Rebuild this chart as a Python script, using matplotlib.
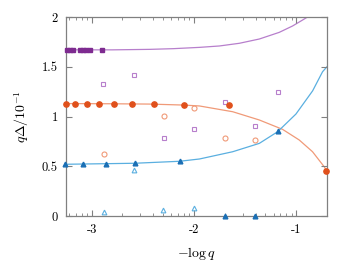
import numpy as np
import matplotlib
matplotlib.use('Agg')
import matplotlib.pyplot as plt
from matplotlib.ticker import FixedLocator

plt.rcParams['font.family'] = ['cmr10', 'DejaVu Serif']
plt.rcParams['mathtext.fontset'] = 'cm'
plt.rcParams['axes.unicode_minus'] = False
plt.rcParams['axes.formatter.use_mathtext'] = True

# filled markers
sq_x = [-3.24, -3.21, -3.18, -3.11, -3.08, -3.05, -3.02, -2.90]
sq_y = [1.67, 1.67, 1.67, 1.67, 1.67, 1.67, 1.67, 1.67]
ci_x = [-3.254, -3.159, -3.049, -2.925, -2.782, -2.61, -2.388, -2.10, -1.657, -0.707]
ci_y = [1.126, 1.126, 1.126, 1.126, 1.126, 1.126, 1.126, 1.12, 1.113, 0.45]
tr_x = [-3.257, -3.085, -2.863, -2.574, -2.135, -1.693, -1.40, -1.182]
tr_y = [0.523, 0.523, 0.523, 0.53, 0.55, 0.0, 0.0, 0.854]

# open markers
osq_x = [-2.886, -2.584, -2.295, -2.002, -1.693, -1.40, -1.182]
osq_y = [1.323, 1.42, 0.787, 0.871, 1.146, 0.908, 1.246]
oci_x = [-2.883, -2.295, -1.998, -1.693, -1.40]
oci_y = [0.62, 1.005, 1.082, 0.78, 0.764]
otr_x = [-2.883, -2.584, -2.298, -2.002]
otr_y = [0.043, 0.462, 0.057, 0.08]

# fit curves
fp_x = [-3.25, -2.8, -2.43, -2.2, -1.946, -1.751, -1.556, -1.361, -1.166, -1.036, -0.938, -0.89]
fp_y = [1.670, 1.670, 1.675, 1.682, 1.695, 1.709, 1.736, 1.779, 1.846, 1.91, 1.97, 2.0]
fo_x = [-3.25, -2.8, -2.434, -2.10, -1.946, -1.621, -1.361, -1.134, -0.971, -0.841, -0.727, -0.70]
fo_y = [1.13, 1.128, 1.125, 1.115, 1.106, 1.048, 0.965, 0.871, 0.764, 0.646, 0.495, 0.45]
fb_x = [-3.25, -2.58, -2.14, -1.946, -1.621, -1.361, -1.182, -1.003, -0.84, -0.743, -0.70]
fb_y = [0.52, 0.53, 0.55, 0.573, 0.646, 0.73, 0.847, 1.025, 1.258, 1.45, 1.5]

purple, purple_l = '#7e2b90', '#b77fcc'
orange, orange_l = '#e0501b', '#f09a78'
blue, blue_l = '#1a6fb5', '#5aafe0'

fig = plt.figure(figsize=(3.55, 2.66), dpi=100)
ax = fig.add_axes([0.186, 0.188, 0.735, 0.748])

ax.plot(fp_x, fp_y, color=purple_l, lw=0.9, zorder=1)
ax.plot(fo_x, fo_y, color=orange_l, lw=0.9, zorder=1)
ax.plot(fb_x, fb_y, color=blue_l, lw=0.9, zorder=1)

ax.plot(osq_x, osq_y, 's', ms=3.4, mfc='none', mec=purple_l, mew=0.8, zorder=2)
ax.plot(oci_x, oci_y, 'o', ms=3.6, mfc='none', mec=orange_l, mew=0.8, zorder=2)
ax.plot(otr_x, otr_y, '^', ms=3.4, mfc='none', mec=blue_l, mew=0.8, zorder=2)

ax.plot(sq_x, sq_y, 's', ms=3.4, color=purple, zorder=3, clip_on=False)
ax.plot(ci_x, ci_y, 'o', ms=3.8, color=orange, zorder=3, clip_on=False)
ax.plot(tr_x, tr_y, '^', ms=3.4, color=blue, zorder=3, clip_on=False)

ax.set_xlim(-3.25, -0.7)
ax.set_ylim(0, 2)
ax.set_xticks([-3, -2, -1])
ax.set_xticklabels(['-3', '-2', '-1'])
ax.set_yticks([0, 0.5, 1, 1.5, 2])
ax.set_yticklabels(['0', '0.5', '1', '1.5', '2'])
minors = [d + np.log10(k) for d in (-4, -3, -2, -1) for k in range(2, 10)]
minors = [m for m in minors if -3.25 < m < -0.7]
ax.xaxis.set_minor_locator(FixedLocator(minors))

ax.tick_params(which='both', direction='in', top=True, right=True, color='#808080',
               labelsize=9, pad=6)
ax.tick_params(which='major', length=4, width=0.8)
ax.tick_params(which='minor', length=2, width=0.6)
for s in ax.spines.values():
    s.set_color('#808080')
    s.set_linewidth(0.9)

ax.set_xlabel(r'$-\log q$', fontsize=10, labelpad=6)
ax.set_ylabel(r'$q\Delta/10^{-1}$', fontsize=10, labelpad=8)

fig.savefig('out.png', dpi=100)
